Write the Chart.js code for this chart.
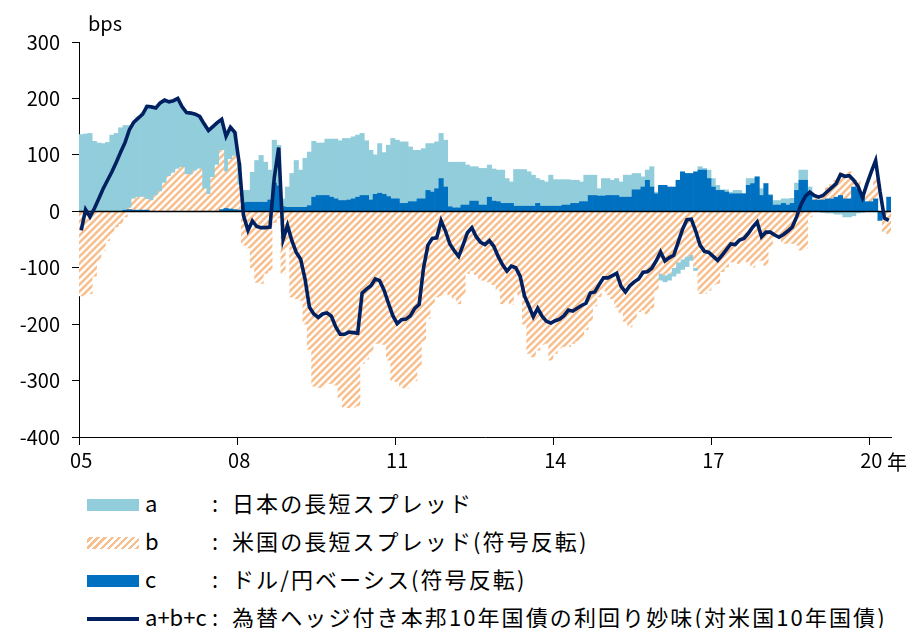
<!DOCTYPE html>
<html lang="ja">
<head>
<meta charset="utf-8">
<script src="https://cdn.jsdelivr.net/npm/chart.js@4.4.1/dist/chart.umd.min.js"></script>
<style>
  html, body { margin: 0; padding: 0; background: #fff; }
  body { width: 911px; height: 628px; position: relative; overflow: hidden;
         font-family: "Noto Sans CJK JP", "Noto Sans", sans-serif; color: #000; }
  #wrap { position: absolute; left: 0; top: 0; width: 911px; height: 470px; }
  .unit { position: absolute; font-size: 20px; line-height: 20px; }
  .row { position: absolute; left: 87px; height: 26px; font-size: 22px; line-height: 26px; white-space: nowrap; }
  .sw { position: absolute; left: 0; width: 52px; height: 12px; top: 10px; }
  .key { position: absolute; left: 58px; }
  .colon { position: absolute; left: 125px; }
  .desc { position: absolute; left: 145px; letter-spacing: 2.1px; }
</style>
</head>
<body>
<div id="wrap"><canvas id="grafico" width="911" height="470"></canvas></div>
<div class="unit" style="left:88px;top:13px;">bps</div>
<div class="unit" style="left:887px;top:452px;">年</div>

<div class="row" style="top:489px;">
  <div class="sw" style="background:#92CDDC;"></div>
  <span class="key">a</span><span class="colon">:</span><span class="desc">日本の長短スプレッド</span>
</div>
<div class="row" style="top:527px;">
  <div class="sw" style="background:repeating-linear-gradient(135deg,#fff 0 2px,#F8BF8E 2px 4.5px,#fff 4.5px 5px);"></div>
  <span class="key">b</span><span class="colon">:</span><span class="desc">米国の長短スプレッド(符号反転)</span>
</div>
<div class="row" style="top:565px;">
  <div class="sw" style="background:#0070C0;"></div>
  <span class="key">c</span><span class="colon">:</span><span class="desc">ドル/円ベーシス(符号反転)</span>
</div>
<div class="row" style="top:603px;">
  <div class="sw" style="background:#002060;height:4px;top:14px;"></div>
  <span class="key">a+b+c</span><span class="colon">:</span><span class="desc">為替ヘッジ付き本邦10年国債の利回り妙味(対米国10年国債)</span>
</div>

<script>
const startYear = 2005;
const tickYears = ["05", "08", "11", "14", "17", "20"];

// a : 日本の長短スプレッド (bps, monthly from 2005-01)
const spreadJp = [
  136, 137, 138, 124, 121, 120, 122, 135, 138, 148, 150, 146,   // 2005
  136, 142, 149, 167, 166, 155, 157, 147, 132, 128, 125, 107,   // 2006
  110, 109, 100, 93, 115, 113, 90, 75, 55, 63, 57, 42,          // 2007
  38, 22, 21, 53, 74, 83, 71, 53, 76, 72, 14, 36,               // 2008
  60, 83, 66, 87, 95, 99, 93, 93, 100, 103, 106, 106,           // 2009
  110, 109, 110, 110, 110, 97, 88, 70, 88, 74, 91, 107,         // 2010
  104, 109, 109, 97, 91, 86, 89, 83, 86, 83, 80, 83,            // 2011
  79, 81, 81, 76, 71, 61, 61, 65, 65, 57, 57, 56,               // 2012
  59, 44, 38, 65, 65, 65, 61, 55, 44, 46, 43, 55,               // 2013
  47, 47, 45, 45, 41, 41, 35, 47, 36, 36, 13, 31,               // 2014
  30, 27, 30, 27, 39, 39, 29, 29, 18, 18, 36, 3,                // 2015
  -12, -12, -12, -15, -20, -18, -18, -10, -5, 6, 3, 15,         // 2016
  15, 9, 1, 4, 3, 6, 6, 0, 12, 9, 0, 12,                        // 2017
  0, 2, 8, 8, 8, 11, 9, 13, 18, 18, 13, 5,                      // 2018
  0, -2, -3, -3, -5, -5, -10, -10, -8, -3, -2, 0,               // 2019
  0, 0, 0, 0, 0                                                 // 2020
];

// b : 米国の長短スプレッド(符号反転)
const spreadUs = [
  -150, -148, -146, -115, -88, -70, -52, -40, -28, -22, -10, 3,
  20, 23, 23, 19, 19, 28, 35, 50, 62, 68, 75, 78,
  65, 65, 72, 75, 40, 30, 60, 82, 105, 65, 88, 95,
  45, -60, -65, -100, -126, -128, -110, -105, -20, -12, -110, -65,
  -152, -155, -158, -200, -245, -310, -312, -312, -305, -305, -308, -330,
  -347, -348, -347, -345, -270, -262, -250, -234, -234, -236, -264, -300,
  -302, -312, -314, -305, -300, -278, -230, -190, -168, -152, -150, -142,
  -148, -155, -164, -150, -110, -105, -112, -122, -122, -125, -130, -140,
  -164, -158, -165, -145, -150, -200, -252, -258, -246, -236, -234, -264,
  -252, -242, -240, -240, -234, -230, -225, -210, -195, -168, -152, -140,
  -148, -155, -170, -180, -195, -205, -193, -178, -175, -182, -172, -140,
  -110, -113, -110, -100, -90, -85, -80, -77, -100, -146, -146, -140,
  -130, -128, -107, -99, -90, -90, -93, -87, -90, -99, -87, -87,
  -96, -63, -45, -45, -57, -57, -57, -60, -69, -65, -10, 3,
  5, 8, 20, 25, 30, 40, 45, 48, 12, 15, 5, 15,
  20, 35, 0, -35, -40
];

// c : ドル/円ベーシス(符号反転)
const basis = [
  0, 0, 0, 0, 0, 0, 0, 0, 0, 0, 2, 3,
  2, 2, 2, 2, 0, 0, 0, 0, 0, 0, 0, 0,
  0, 0, 0, 0, 0, 0, 0, 0, 3, 5, 4, 3,
  2, 15, 16, 16, 16, 16, 16, 20, 50, 45, 8, 7,
  7, 7, 7, 7, 10, 25, 28, 28, 28, 25, 22, 19,
  19, 20, 22, 25, 28, 28, 20, 30, 32, 30, 26, 22,
  22, 14, 14, 17, 17, 22, 22, 37, 34, 40, 58, 43,
  8, 6, 6, 11, 11, 18, 18, 11, 11, 25, 18, 17,
  14, 14, 14, 9, 9, 9, 9, 9, 14, 9, 9, 9,
  9, 9, 11, 11, 14, 14, 17, 17, 28, 28, 27, 27,
  28, 28, 28, 25, 25, 25, 38, 38, 43, 55, 43, 31,
  46, 46, 43, 43, 55, 70, 67, 67, 70, 73, 73, 58,
  43, 37, 37, 34, 31, 31, 31, 31, 46, 49, 61, 28,
  49, 28, 11, 11, 14, 11, 14, 37, 55, 55, 30, 20,
  20, 20, 22, 22, 25, 28, 22, 22, 43, 40, 31, 17,
  17, 22, -16, 0, 25
];

// a+b+c : 為替ヘッジ付き本邦10年国債の利回り妙味
const hedgedPickup = [
  -34, 3, -10, 5, 22, 40, 55, 70, 87, 105, 122, 145,
  158, 165, 172, 186, 185, 183, 192, 197, 194, 196, 200, 185,
  175, 174, 172, 168, 155, 143, 150, 157, 163, 133, 149, 140,
  85, -8, -34, -17, -27, -29, -29, -28, 60, 113, -50, -25,
  -52, -73, -85, -120, -170, -182, -188, -182, -180, -186, -205, -218,
  -218, -214, -215, -216, -145, -138, -132, -120, -123, -140, -163, -185,
  -199, -192, -191, -185, -172, -165, -100, -60, -48, -47, -17, -35,
  -58, -70, -80, -60, -38, -29, -45, -55, -59, -52, -62, -80,
  -95, -106, -97, -100, -115, -150, -168, -187, -172, -186, -195, -198,
  -194, -191, -185, -175, -177, -172, -167, -163, -145, -143, -130, -118,
  -118, -114, -110, -133, -143, -132, -125, -120, -108, -107, -101, -88,
  -72, -88, -82, -78, -55, -32, -15, -14, -35, -60, -71, -73,
  -80, -87, -78, -68, -58, -59, -51, -48, -39, -28, -19, -45,
  -37, -37, -42, -46, -41, -35, -28, -10, 12, 27, 34, 28,
  25, 28, 35, 42, 49, 65, 62, 63, 55, 44, 24, 48,
  70, 90, 35, -12, -16
];

const months = [];
for (let i = 0; i < hedgedPickup.length; i++) {
  const y = startYear + Math.floor(i / 12);
  months.push(y + "-" + String((i % 12) + 1).padStart(2, "0"));
}

// 1月かつ対象年のみ目盛りを出す
const tickLabel = (i) => {
  const m = months[i];
  if (!m || !m.endsWith("-01")) return "";
  const yy = m.slice(2, 4);
  return tickYears.includes(yy) ? yy : "";
};

const hatch = () => {
  const s = 7;
  const c = document.createElement("canvas");
  c.width = s;
  c.height = s;
  const g = c.getContext("2d");
  g.fillStyle = "#fff";
  g.fillRect(0, 0, s, s);
  g.strokeStyle = "#F8BF8E";
  g.lineWidth = 2.6;
  g.beginPath();
  [-s, 0, s].forEach((k) => {
    g.moveTo(k - 1, s + 1);
    g.lineTo(k + s + 1, -1);
  });
  g.stroke();
  return g.createPattern(c, "repeat");
};

// ゼロ線は棒の上、折れ線の下に引く
const zeroLine = {
  id: "zeroLine",
  beforeDatasetDraw(chart, args) {
    if (args.meta.type !== "line") return;
    const { ctx, chartArea, scales } = chart;
    const y = Math.round(scales.y.getPixelForValue(0)) + 0.5;
    ctx.save();
    ctx.strokeStyle = "#000";
    ctx.lineWidth = 1.6;
    ctx.beginPath();
    ctx.moveTo(chartArea.left, y);
    ctx.lineTo(chartArea.right, y);
    ctx.stroke();
    ctx.restore();
  },
};

const fuente = { family: '"Noto Sans CJK JP", "Noto Sans", sans-serif', size: 20 };

const graficoCanvas = document.getElementById("grafico");
new Chart(graficoCanvas, {
  type: "bar",
  data: {
    labels: months,
    datasets: [
      {
        type: "line",
        label: "a+b+c",
        data: hedgedPickup,
        borderColor: "#002060",
        borderWidth: 3.6,
        pointRadius: 0,
        tension: 0,
        order: 0,
        stack: "sum",
      },
      { label: "c", data: basis, backgroundColor: "#0070C0", order: 1, stack: "parts" },
      { label: "b", data: spreadUs, backgroundColor: hatch(), order: 2, stack: "parts" },
      { label: "a", data: spreadJp, backgroundColor: "#92CDDC", order: 3, stack: "parts" },
    ],
  },
  options: {
    responsive: false,
    animation: false,
    layout: { padding: { top: 42, right: 20, left: 0, bottom: 0 } },
    datasets: {
      bar: { barPercentage: 1, categoryPercentage: 1, borderWidth: 0 },
    },
    plugins: { legend: { display: false }, tooltip: { enabled: false } },
    scales: {
      x: {
        stacked: true,
        offset: true,
        grid: {
          offset: true,
          drawOnChartArea: false,
          drawTicks: true,
          tickLength: 8,
          color: (c) => (tickLabel(c.index) ? "#000" : "rgba(0,0,0,0)"),
          tickColor: (c) => (tickLabel(c.index) ? "#000" : "rgba(0,0,0,0)"),
        },
        border: { color: "#000", width: 1 },
        ticks: {
          autoSkip: false,
          maxRotation: 0,
          minRotation: 0,
          padding: 3,
          color: "#000",
          font: fuente,
          callback: (v, i) => tickLabel(i),
        },
        afterFit: (s) => { s.height = 33; },
      },
      y: {
        stacked: true,
        min: -400,
        max: 300,
        ticks: { stepSize: 100, padding: 12, color: "#000", font: fuente },
        grid: { drawOnChartArea: false, tickLength: 7, color: "#000" },
        border: { color: "#000", width: 1 },
        afterFit: (s) => { s.width = 79; },
      },
    },
  },
  plugins: [zeroLine],
});
</script>
</body>
</html>
